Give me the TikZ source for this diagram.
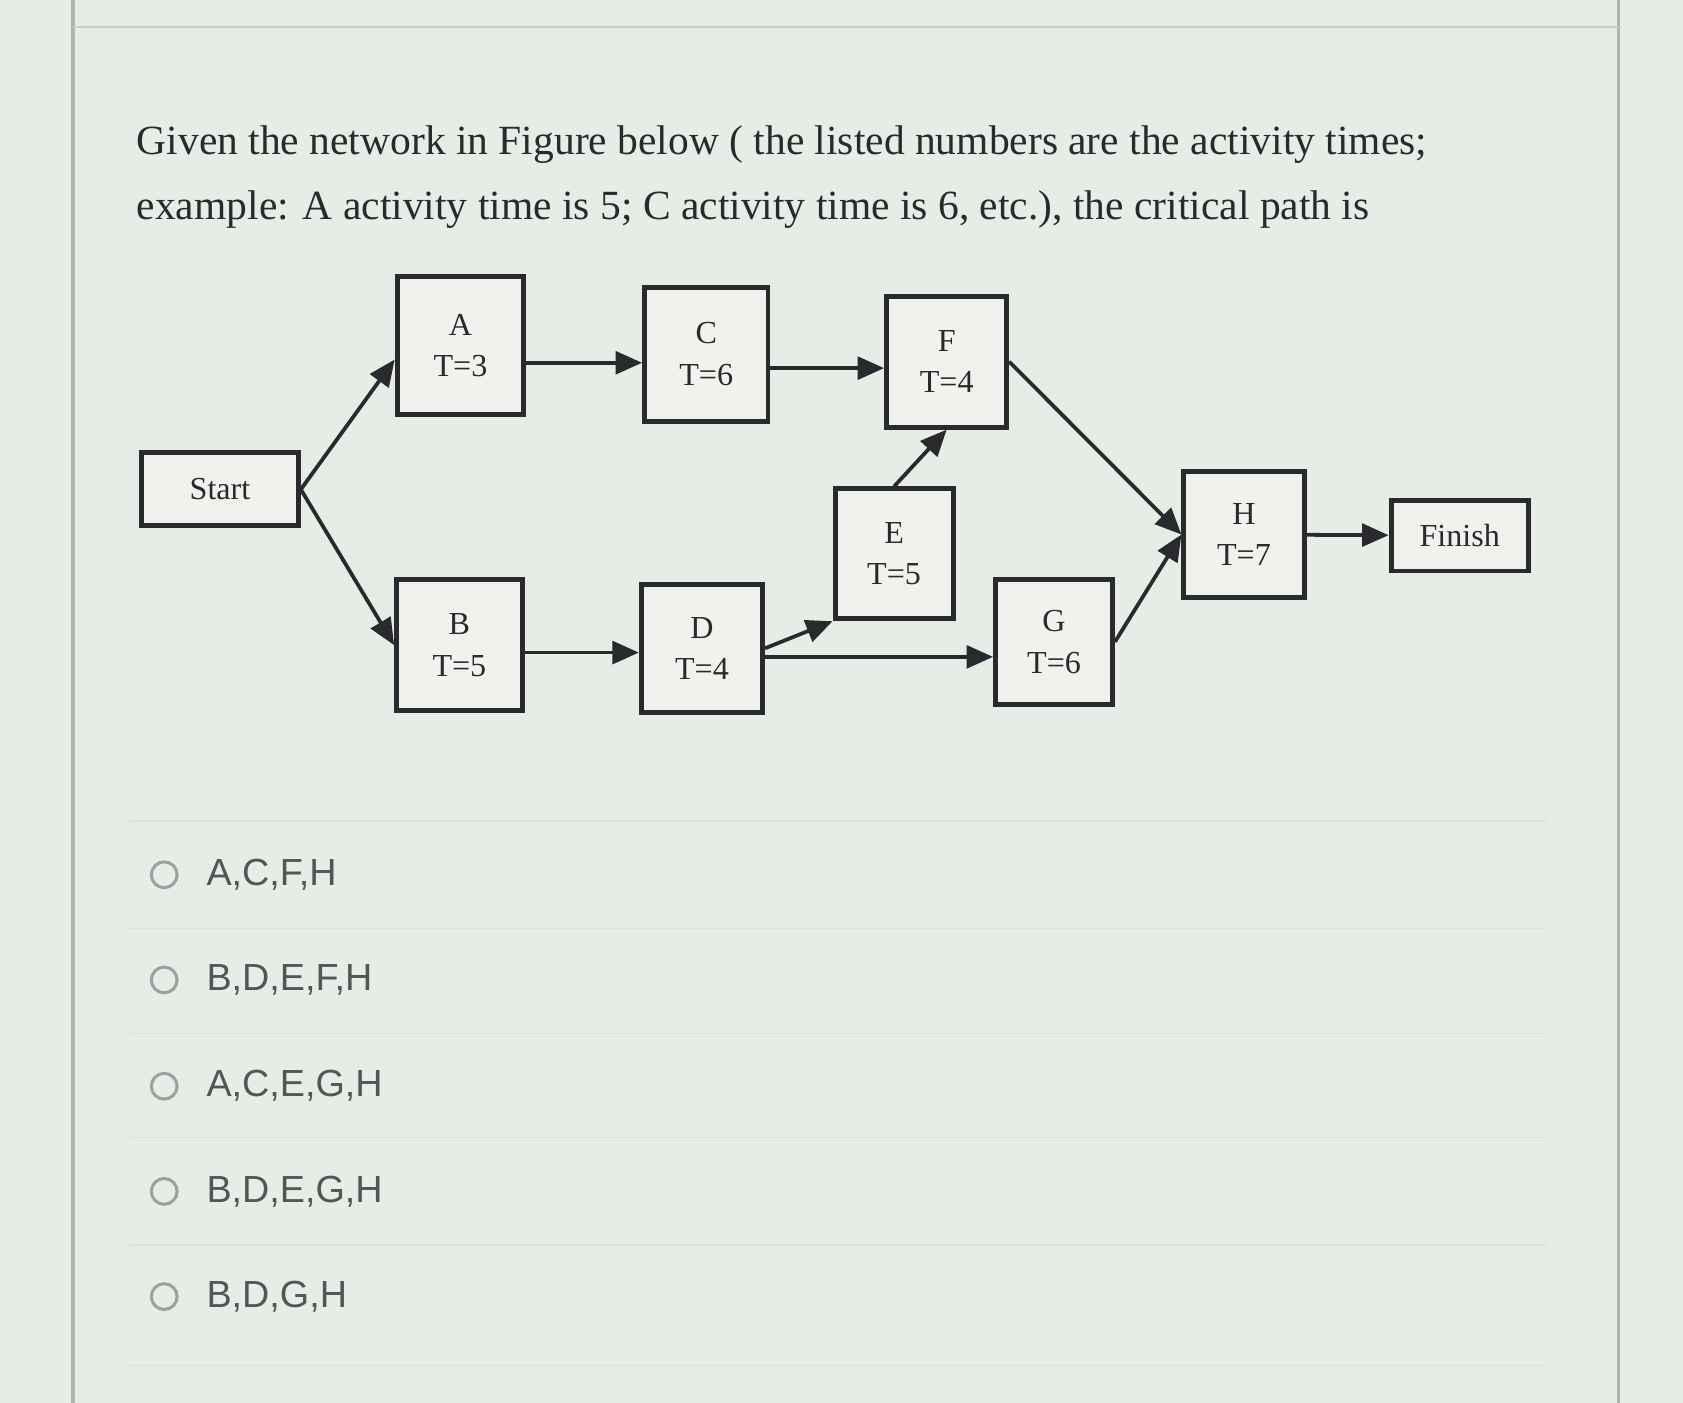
\documentclass[tikz,border=0pt]{standalone}
\usepackage{fontspec}
\setmainfont{Liberation Serif}
\setsansfont{Liberation Sans}
\usetikzlibrary{arrows.meta}
\definecolor{bg}{RGB}{232,236,230}
\definecolor{ink}{RGB}{40,42,45}
\tikzset{
 act/.style={draw=ink,line width=1.3pt,fill=bg!70!white,align=center,font=\fontsize{8.5}{11}\selectfont,text=ink,inner sep=0pt},
 conn/.style={draw=ink,line width=1pt,-{Triangle[length=7pt,width=6pt]}},
 opt/.style={anchor=west,font=\sffamily\fontsize{10}{12}\selectfont,text=ink!80},
 radio/.style={circle,draw=ink!45,line width=0.8pt,minimum size=0.24cm,inner sep=0pt}
}
\begin{document}
\begin{tikzpicture}[x=0.01cm,y=-0.01cm]
\fill[bg] (0,0) rectangle (1568,1307);
\useasboundingbox (0,0) rectangle (1568,1307);
\draw[gray!60,line width=1pt] (68,1307) -- (68,0);
\draw[gray!60,line width=1pt] (1508,1307) -- (1508,0);
\draw[gray!40] (68,25) -- (1508,25);
\node[anchor=west,font=\fontsize{11}{13}\selectfont,text=ink] (q1) at (115,135) {Given the network in Figure below ( the listed numbers are the activity times;};
\node[anchor=west,font=\fontsize{11}{13}\selectfont,text=ink] (q2) at (115,195) {example: A activity time is 5; C activity time is 6, etc.), the critical path is};
\node[act,minimum width=146*0.01cm,minimum height=68*0.01cm] (start) at (205,456) {Start};
\node[act,minimum width=118*0.01cm,minimum height=129*0.01cm] (A) at (429,322) {A\\T=3};
\node[act,minimum width=115*0.01cm,minimum height=125*0.01cm] (C) at (658,330) {C\\T=6};
\node[act,minimum width=112*0.01cm,minimum height=122*0.01cm] (F) at (882,337) {F\\T=4};
\node[act,minimum width=110*0.01cm,minimum height=121*0.01cm] (E) at (833,516) {E\\T=5};
\node[act,minimum width=112*0.01cm,minimum height=117*0.01cm] (H) at (1159,498) {H\\T=7};
\node[act,minimum width=128*0.01cm,minimum height=66*0.01cm] (fin) at (1360,499) {Finish};
\node[act,minimum width=117*0.01cm,minimum height=122*0.01cm] (B) at (428,601) {B\\T=5};
\node[act,minimum width=113*0.01cm,minimum height=119*0.01cm] (D) at (654,604) {D\\T=4};
\node[act,minimum width=109*0.01cm,minimum height=117*0.01cm] (G) at (982,598) {G\\T=6};
\draw[conn] (start.east) -- (A.west |- 0,335);
\draw[conn] (start.east) -- (B.west);
\draw[conn] (A.east |- 0,338) -- (C.west |- 0,338);
\draw[conn] (C.east |- 0,343) -- (F.west |- 0,343);
\draw[conn] (F.east) -- (H.west);
\draw[conn] (E.north) -- (F.south);
\draw[conn] (B.east |- 0,608) -- (D.west |- 0,608);
\draw[conn] (D.east) -- (E.south west);
\draw[conn] (D.east |- 0,612) -- (G.west |- 0,612);
\draw[conn] (G.east) -- (H.west);
\draw[conn] (H) -- (fin);
\foreach \y/\t/\n in {815/{A,C,F,H}/o1,913/{B,D,E,F,H}/o2,1012/{A,C,E,G,H}/o3,1110/{B,D,E,G,H}/o4,1208/{B,D,G,H}/o5}{
  \node[radio] (r\n) at (153,\y) {};
  \node[opt] (\n) at (180,\y) {\t};
}
\foreach \y in {765,865,963,1060,1160,1272}{\draw[gray!25] (120,\y) -- (1440,\y);}
\end{tikzpicture}
\end{document}
